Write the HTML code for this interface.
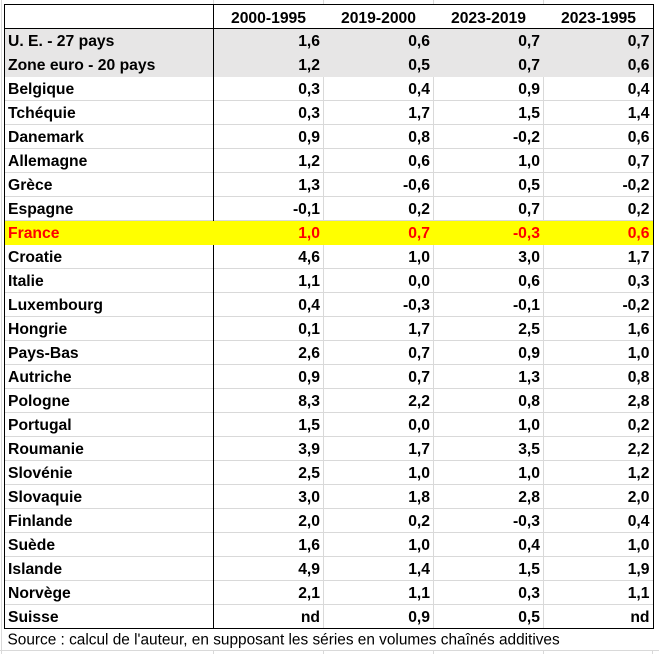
<!DOCTYPE html>
<html><head><meta charset="utf-8"><style>
html,body{margin:0;padding:0;background:#fff;}
svg{display:block;}
text{font-family:"Liberation Sans",Arial,sans-serif;}
.b{font-weight:bold;font-size:15.7px;fill:#000;}
.r{fill:#ff0000;}
.n{text-anchor:end;}
.h{text-anchor:middle;}
</style></head><body>
<svg width="659" height="654" viewBox="0 0 659 654" xmlns="http://www.w3.org/2000/svg" shape-rendering="crispEdges">
<rect x="0" y="0" width="659" height="654" fill="#fff"/>
<!-- outside gridlines -->
<g fill="#d9d9d9">
<rect x="213" y="0" width="1" height="4"/><rect x="323" y="0" width="1" height="4"/><rect x="433" y="0" width="1" height="4"/><rect x="543" y="0" width="1" height="4"/>
<rect x="1" y="0" width="1" height="654"/>
<rect x="0" y="650" width="659" height="1"/>
<rect x="213" y="651" width="1" height="3"/><rect x="323" y="651" width="1" height="3"/><rect x="433" y="651" width="1" height="3"/><rect x="543" y="651" width="1" height="3"/><rect x="652" y="651" width="1" height="3"/>
</g>
<!-- inner gridlines -->
<g fill="#d9d9d9">
<rect x="323" y="29" width="1" height="599"/>
<rect x="433" y="29" width="1" height="599"/>
<rect x="543" y="29" width="1" height="599"/>
<rect x="5" y="52" width="648" height="1"/>
<rect x="5" y="76" width="648" height="1"/>
<rect x="5" y="100" width="648" height="1"/>
<rect x="5" y="124" width="648" height="1"/>
<rect x="5" y="148" width="648" height="1"/>
<rect x="5" y="172" width="648" height="1"/>
<rect x="5" y="196" width="648" height="1"/>
<rect x="5" y="220" width="648" height="1"/>
<rect x="5" y="244" width="648" height="1"/>
<rect x="5" y="268" width="648" height="1"/>
<rect x="5" y="292" width="648" height="1"/>
<rect x="5" y="316" width="648" height="1"/>
<rect x="5" y="340" width="648" height="1"/>
<rect x="5" y="364" width="648" height="1"/>
<rect x="5" y="388" width="648" height="1"/>
<rect x="5" y="412" width="648" height="1"/>
<rect x="5" y="436" width="648" height="1"/>
<rect x="5" y="460" width="648" height="1"/>
<rect x="5" y="484" width="648" height="1"/>
<rect x="5" y="508" width="648" height="1"/>
<rect x="5" y="532" width="648" height="1"/>
<rect x="5" y="556" width="648" height="1"/>
<rect x="5" y="580" width="648" height="1"/>
<rect x="5" y="604" width="648" height="1"/>
</g>
<!-- fills -->
<rect x="5" y="29" width="648" height="48" fill="#e7e6e6"/>
<rect x="5" y="221" width="648" height="24" fill="#ffff00"/>
<!-- black borders -->
<g fill="#000">
<rect x="4" y="4" width="650" height="1"/>
<rect x="4" y="28" width="650" height="1"/>
<rect x="4" y="628" width="650" height="1"/>
<rect x="4" y="4" width="1" height="625"/>
<rect x="653" y="4" width="1" height="625"/>
<rect x="213" y="4" width="1" height="217"/>
<rect x="213" y="245" width="1" height="384"/>
</g>
<!-- header -->
<g class="b h">
<text x="268.5" y="23">2000-1995</text>
<text x="378.5" y="23">2019-2000</text>
<text x="488.5" y="23">2023-2019</text>
<text x="598.5" y="23">2023-1995</text>
</g>
<!-- labels -->
<g class="b">
<text x="8" y="46">U. E. - 27 pays</text>
<text x="8" y="70">Zone euro - 20 pays</text>
<text x="8" y="94">Belgique</text>
<text x="8" y="118">Tchéquie</text>
<text x="8" y="142">Danemark</text>
<text x="8" y="166">Allemagne</text>
<text x="8" y="190">Grèce</text>
<text x="8" y="214">Espagne</text>
<text x="8" y="238" class="r">France</text>
<text x="8" y="262">Croatie</text>
<text x="8" y="286">Italie</text>
<text x="8" y="310">Luxembourg</text>
<text x="8" y="334">Hongrie</text>
<text x="8" y="358">Pays-Bas</text>
<text x="8" y="382">Autriche</text>
<text x="8" y="406">Pologne</text>
<text x="8" y="430">Portugal</text>
<text x="8" y="454">Roumanie</text>
<text x="8" y="478">Slovénie</text>
<text x="8" y="502">Slovaquie</text>
<text x="8" y="526">Finlande</text>
<text x="8" y="550">Suède</text>
<text x="8" y="574">Islande</text>
<text x="8" y="598">Norvège</text>
<text x="8" y="622">Suisse</text>
</g>
<!-- col 1 -->
<g class="b n">
<text x="320" y="46">1,6</text>
<text x="320" y="70">1,2</text>
<text x="320" y="94">0,3</text>
<text x="320" y="118">0,3</text>
<text x="320" y="142">0,9</text>
<text x="320" y="166">1,2</text>
<text x="320" y="190">1,3</text>
<text x="320" y="214">-0,1</text>
<text x="320" y="238" class="r">1,0</text>
<text x="320" y="262">4,6</text>
<text x="320" y="286">1,1</text>
<text x="320" y="310">0,4</text>
<text x="320" y="334">0,1</text>
<text x="320" y="358">2,6</text>
<text x="320" y="382">0,9</text>
<text x="320" y="406">8,3</text>
<text x="320" y="430">1,5</text>
<text x="320" y="454">3,9</text>
<text x="320" y="478">2,5</text>
<text x="320" y="502">3,0</text>
<text x="320" y="526">2,0</text>
<text x="320" y="550">1,6</text>
<text x="320" y="574">4,9</text>
<text x="320" y="598">2,1</text>
<text x="320" y="622">nd</text>
</g>
<!-- col 2 -->
<g class="b n">
<text x="430" y="46">0,6</text>
<text x="430" y="70">0,5</text>
<text x="430" y="94">0,4</text>
<text x="430" y="118">1,7</text>
<text x="430" y="142">0,8</text>
<text x="430" y="166">0,6</text>
<text x="430" y="190">-0,6</text>
<text x="430" y="214">0,2</text>
<text x="430" y="238" class="r">0,7</text>
<text x="430" y="262">1,0</text>
<text x="430" y="286">0,0</text>
<text x="430" y="310">-0,3</text>
<text x="430" y="334">1,7</text>
<text x="430" y="358">0,7</text>
<text x="430" y="382">0,7</text>
<text x="430" y="406">2,2</text>
<text x="430" y="430">0,0</text>
<text x="430" y="454">1,7</text>
<text x="430" y="478">1,0</text>
<text x="430" y="502">1,8</text>
<text x="430" y="526">0,2</text>
<text x="430" y="550">1,0</text>
<text x="430" y="574">1,4</text>
<text x="430" y="598">1,1</text>
<text x="430" y="622">0,9</text>
</g>
<!-- col 3 -->
<g class="b n">
<text x="540" y="46">0,7</text>
<text x="540" y="70">0,7</text>
<text x="540" y="94">0,9</text>
<text x="540" y="118">1,5</text>
<text x="540" y="142">-0,2</text>
<text x="540" y="166">1,0</text>
<text x="540" y="190">0,5</text>
<text x="540" y="214">0,7</text>
<text x="540" y="238" class="r">-0,3</text>
<text x="540" y="262">3,0</text>
<text x="540" y="286">0,6</text>
<text x="540" y="310">-0,1</text>
<text x="540" y="334">2,5</text>
<text x="540" y="358">0,9</text>
<text x="540" y="382">1,3</text>
<text x="540" y="406">0,8</text>
<text x="540" y="430">1,0</text>
<text x="540" y="454">3,5</text>
<text x="540" y="478">1,0</text>
<text x="540" y="502">2,8</text>
<text x="540" y="526">-0,3</text>
<text x="540" y="550">0,4</text>
<text x="540" y="574">1,5</text>
<text x="540" y="598">0,3</text>
<text x="540" y="622">0,5</text>
</g>
<!-- col 4 -->
<g class="b n">
<text x="649.5" y="46">0,7</text>
<text x="649.5" y="70">0,6</text>
<text x="649.5" y="94">0,4</text>
<text x="649.5" y="118">1,4</text>
<text x="649.5" y="142">0,6</text>
<text x="649.5" y="166">0,7</text>
<text x="649.5" y="190">-0,2</text>
<text x="649.5" y="214">0,2</text>
<text x="649.5" y="238" class="r">0,6</text>
<text x="649.5" y="262">1,7</text>
<text x="649.5" y="286">0,3</text>
<text x="649.5" y="310">-0,2</text>
<text x="649.5" y="334">1,6</text>
<text x="649.5" y="358">1,0</text>
<text x="649.5" y="382">0,8</text>
<text x="649.5" y="406">2,8</text>
<text x="649.5" y="430">0,2</text>
<text x="649.5" y="454">2,2</text>
<text x="649.5" y="478">1,2</text>
<text x="649.5" y="502">2,0</text>
<text x="649.5" y="526">0,4</text>
<text x="649.5" y="550">1,0</text>
<text x="649.5" y="574">1,9</text>
<text x="649.5" y="598">1,1</text>
<text x="649.5" y="622">nd</text>
</g>
<text x="7.5" y="644.5" style="font-size:15.4px;fill:#000;">Source : calcul de l'auteur, en supposant les séries en volumes chaînés additives</text>
</svg>
</body></html>
